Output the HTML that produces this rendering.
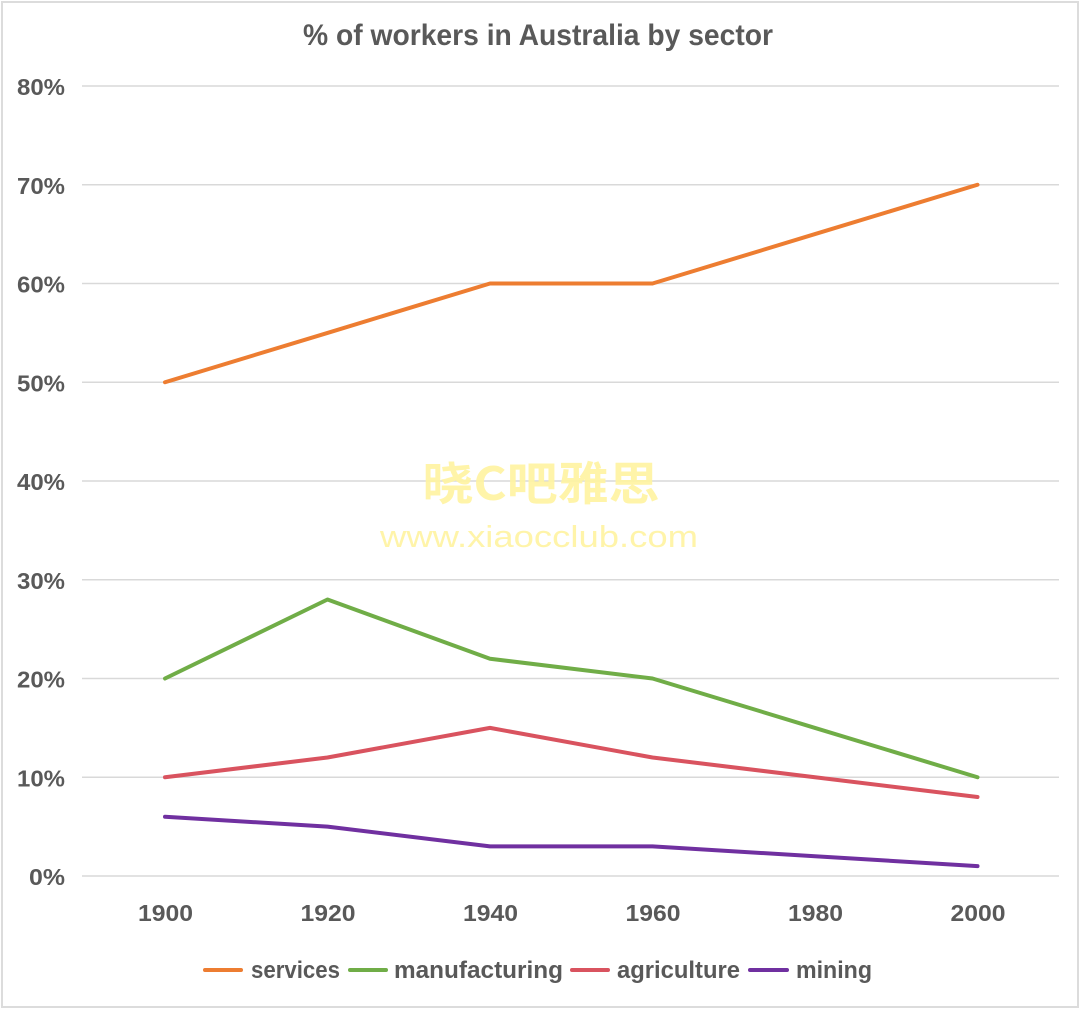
<!DOCTYPE html>
<html>
<head>
<meta charset="utf-8">
<style>
  html,body{margin:0;padding:0;background:#fff;}
  svg{display:block;}
  text{font-family:"Liberation Sans","Noto Sans CJK SC",sans-serif;}
</style>
</head>
<body>
<svg width="1080" height="1009" viewBox="0 0 1080 1009" xmlns="http://www.w3.org/2000/svg">
  <rect x="0" y="0" width="1080" height="1009" fill="#ffffff"/>
  <rect x="2" y="2" width="1076" height="1005" fill="none" stroke="#dcdcdc" stroke-width="2"/>

  <!-- Title -->
  <text x="538" y="45" text-anchor="middle" font-size="30" font-weight="bold" fill="#595959" textLength="470" lengthAdjust="spacingAndGlyphs">% of workers in Australia by sector</text>

  <!-- Gridlines -->
  <g stroke="#d9d9d9" stroke-width="1.6">
    <line x1="82" y1="86" x2="1059" y2="86"/>
    <line x1="82" y1="184.75" x2="1059" y2="184.75"/>
    <line x1="82" y1="283.5" x2="1059" y2="283.5"/>
    <line x1="82" y1="382.25" x2="1059" y2="382.25"/>
    <line x1="82" y1="481" x2="1059" y2="481"/>
    <line x1="82" y1="579.75" x2="1059" y2="579.75"/>
    <line x1="82" y1="678.5" x2="1059" y2="678.5"/>
    <line x1="82" y1="777.25" x2="1059" y2="777.25"/>
    <line x1="82" y1="876" x2="1059" y2="876"/>
  </g>

  <!-- Y labels -->
  <g font-size="23.5" font-weight="bold" fill="#595959" text-anchor="end">
    <text x="65" y="95" textLength="48" lengthAdjust="spacingAndGlyphs">80%</text>
    <text x="65" y="193.75" textLength="48" lengthAdjust="spacingAndGlyphs">70%</text>
    <text x="65" y="292.5" textLength="48" lengthAdjust="spacingAndGlyphs">60%</text>
    <text x="65" y="391.25" textLength="48" lengthAdjust="spacingAndGlyphs">50%</text>
    <text x="65" y="490" textLength="48" lengthAdjust="spacingAndGlyphs">40%</text>
    <text x="65" y="588.75" textLength="48" lengthAdjust="spacingAndGlyphs">30%</text>
    <text x="65" y="687.5" textLength="48" lengthAdjust="spacingAndGlyphs">20%</text>
    <text x="65" y="786.25" textLength="48" lengthAdjust="spacingAndGlyphs">10%</text>
    <text x="65" y="885" textLength="36" lengthAdjust="spacingAndGlyphs">0%</text>
  </g>

  <!-- X labels -->
  <g font-size="23.5" font-weight="bold" fill="#595959" text-anchor="middle">
    <text x="165.5" y="921" textLength="55" lengthAdjust="spacingAndGlyphs">1900</text>
    <text x="328" y="921" textLength="55" lengthAdjust="spacingAndGlyphs">1920</text>
    <text x="490.5" y="921" textLength="55" lengthAdjust="spacingAndGlyphs">1940</text>
    <text x="653" y="921" textLength="55" lengthAdjust="spacingAndGlyphs">1960</text>
    <text x="815.5" y="921" textLength="55" lengthAdjust="spacingAndGlyphs">1980</text>
    <text x="978" y="921" textLength="55" lengthAdjust="spacingAndGlyphs">2000</text>
  </g>

  <!-- Series -->
  <g fill="none" stroke-width="4" stroke-linejoin="round" stroke-linecap="round">
    <polyline stroke="#ED7D31" points="165,382.25 327.5,332.9 490,283.5 652.5,283.5 815,234.1 977.5,184.75"/>
    <polyline stroke="#70AD47" points="165,678.5 327.5,599.5 490,658.75 652.5,678.5 815,727.9 977.5,777.25"/>
    <polyline stroke="#D9535F" points="165,777.25 327.5,757.5 490,727.9 652.5,757.5 815,777.25 977.5,797"/>
    <polyline stroke="#7030A0" points="165,816.75 327.5,826.6 490,846.4 652.5,846.4 815,856.25 977.5,866.1"/>
  </g>

  <!-- Watermark -->
  <text x="541" y="500" text-anchor="middle" font-size="46" font-weight="bold" fill="#FFF3A0" fill-opacity="0.9" style="font-family:'Noto Sans CJK SC','WenQuanYi Zen Hei',sans-serif" textLength="237" lengthAdjust="spacingAndGlyphs">晓C吧雅思</text>
  <text x="539" y="547" text-anchor="middle" font-size="31" fill="#FFF3A0" fill-opacity="0.9" textLength="318" lengthAdjust="spacingAndGlyphs">www.xiaocclub.com</text>

  <!-- Legend -->
  <g stroke-width="4" stroke-linecap="round">
    <line x1="205" y1="970" x2="241" y2="970" stroke="#ED7D31"/>
    <line x1="350" y1="970" x2="386" y2="970" stroke="#70AD47"/>
    <line x1="572" y1="970" x2="608" y2="970" stroke="#D9535F"/>
    <line x1="750" y1="970" x2="787" y2="970" stroke="#7030A0"/>
  </g>
  <g font-size="24" font-weight="bold" fill="#595959">
    <text x="251" y="978" textLength="89" lengthAdjust="spacingAndGlyphs">services</text>
    <text x="394" y="978" textLength="169" lengthAdjust="spacingAndGlyphs">manufacturing</text>
    <text x="617" y="978" textLength="123" lengthAdjust="spacingAndGlyphs">agriculture</text>
    <text x="796" y="978" textLength="76" lengthAdjust="spacingAndGlyphs">mining</text>
  </g>
</svg>
</body>
</html>
